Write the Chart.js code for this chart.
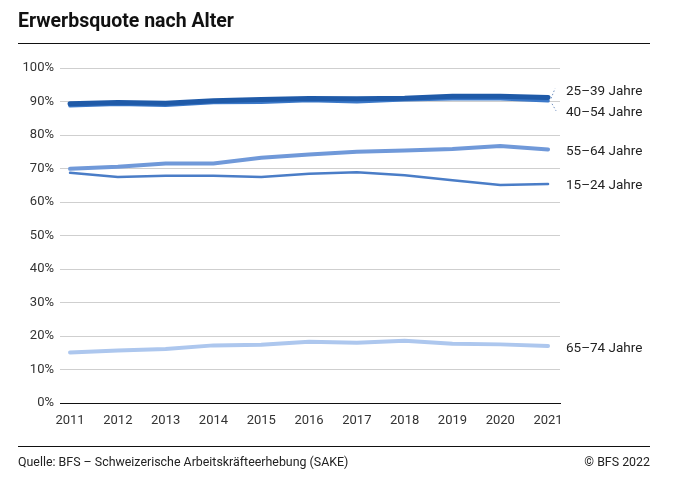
<!DOCTYPE html>
<html>
<head>
<meta charset="utf-8">
<script src="https://cdn.jsdelivr.net/npm/chart.js@4"></script>
<style>
  body { margin: 0; background: #fff; font-family: Roboto, sans-serif; }
  #wrap { position: relative; width: 681px; height: 490px; }
  #grafico { position: absolute; left: 0; top: 0; }
  .titulo { position: absolute; left: 18px; top: 9px; font-size: 19.5px; font-weight: bold; color: #111; }
  .regla { position: absolute; left: 18px; width: 632px; height: 1px; background: #111; }
  .pie { position: absolute; top: 454px; font-size: 12.4px; color: #222; }
</style>
</head>
<body>
<div id="wrap">
  <canvas id="grafico" width="681" height="490"></canvas>
  <div class="titulo">Erwerbsquote nach Alter</div>
  <div class="regla" style="top:43px"></div>
  <div class="regla" style="top:446px"></div>
  <div class="pie" style="left:18px">Quelle: BFS – Schweizerische Arbeitskräfteerhebung (SAKE)</div>
  <div class="pie" style="right:31px">© BFS 2022</div>
</div>
<script>
// --- DATOS ---
const anios = [2011, 2012, 2013, 2014, 2015, 2016, 2017, 2018, 2019, 2020, 2021];
const grupos = ["25–39 Jahre", "40–54 Jahre", "55–64 Jahre", "15–24 Jahre", "65–74 Jahre"];
const quota25_39 = [89.3, 89.7, 89.5, 90.2, 90.6, 90.9, 90.8, 91.0, 91.6, 91.6, 91.2];
const quota40_54 = [88.7, 89.2, 88.9, 89.7, 89.8, 90.3, 89.9, 90.5, 90.8, 90.8, 90.2];
const quota55_64 = [69.9, 70.5, 71.5, 71.5, 73.2, 74.2, 75.0, 75.4, 75.8, 76.7, 75.7];
const quota15_24 = [68.7, 67.5, 67.8, 67.8, 67.5, 68.4, 68.9, 68.0, 66.5, 65.1, 65.4];
const quota65_74 = [15.1, 15.7, 16.1, 17.2, 17.4, 18.3, 18.0, 18.6, 17.7, 17.5, 17.0];
const ticksY = [0, 10, 20, 30, 40, 50, 60, 70, 80, 90, 100];

// --- ESTILOS ---
const colores = ["#1f5aa8", "#3b78c8", "#7099d9", "#4a7dc7", "#adc7ee"];
const grosores = [5, 3.5, 4, 2.5, 4];
const desplazLabel = [-6, 12, 2, 2, 3];

const series = [quota25_39, quota40_54, quota55_64, quota15_24, quota65_74];

const etiquetasPlugin = {
  id: "etiquetas",
  afterDatasetsDraw(chart) {
    const ctx = chart.ctx;
    ctx.save();
    ctx.font = "13.5px Roboto, sans-serif";
    ctx.fillStyle = "#222";
    ctx.textBaseline = "middle";
    ctx.textAlign = "left";
    chart.data.datasets.forEach((ds, i) => {
      const meta = chart.getDatasetMeta(i);
      const p = meta.data[meta.data.length - 1];
      ctx.fillText(grupos[i], 566, p.y + desplazLabel[i]);
    });
    // lineas punteadas para 25-39 y 40-54
    const p0 = chart.getDatasetMeta(0).data.at(-1);
    const p1 = chart.getDatasetMeta(1).data.at(-1);
    ctx.strokeStyle = "#6f8fbf";
    ctx.lineWidth = 1;
    ctx.setLineDash([1.5, 2]);
    ctx.beginPath();
    ctx.moveTo(p0.x + 3, p0.y + 1);
    ctx.lineTo(p0.x + 7, p0.y - 9);
    ctx.moveTo(p1.x + 4, p1.y + 3);
    ctx.lineTo(p1.x + 8, p1.y + 10);
    ctx.stroke();
    ctx.restore();
  }
};

new Chart(document.getElementById("grafico"), {
  type: "line",
  data: {
    datasets: series.map((s, i) => ({
      label: grupos[i],
      data: s.map((v, j) => ({ x: anios[j], y: v })),
      borderColor: colores[i],
      borderWidth: grosores[i],
      pointRadius: 0,
      tension: 0,
      borderCapStyle: "round",
      order: i
    }))
  },
  options: {
    responsive: false,
    animation: false,
    events: [],
    layout: { padding: { left: 18, right: 121, top: 68, bottom: 57 } },
    plugins: { legend: { display: false }, tooltip: { enabled: false } },
    scales: {
      x: {
        type: "linear",
        min: 2010.79,
        max: 2021.25,
        afterBuildTicks: (sc) => { sc.ticks = anios.map(a => ({ value: a })); },
        afterFit: (sc) => { sc.height = 30; },
        grid: { display: false },
        border: { display: true, color: "#111", width: 1 },
        ticks: { color: "#333", font: { size: 13, family: "Roboto" }, padding: 2, maxRotation: 0, callback: v => String(v) }
      },
      y: {
        min: 0,
        max: 100,
        afterBuildTicks: (sc) => { sc.ticks = ticksY.map(v => ({ value: v })); },
        afterFit: (sc) => { sc.width = 42; },
        grid: { color: (c) => c.tick && c.tick.value === 0 ? "rgba(0,0,0,0)" : "#cfcfcf", drawTicks: false },
        border: { display: false },
        ticks: { color: "#333", font: { size: 13, family: "Roboto" }, padding: 6, callback: v => v + "%" }
      }
    }
  },
  plugins: [etiquetasPlugin]
});
</script>
</body>
</html>
